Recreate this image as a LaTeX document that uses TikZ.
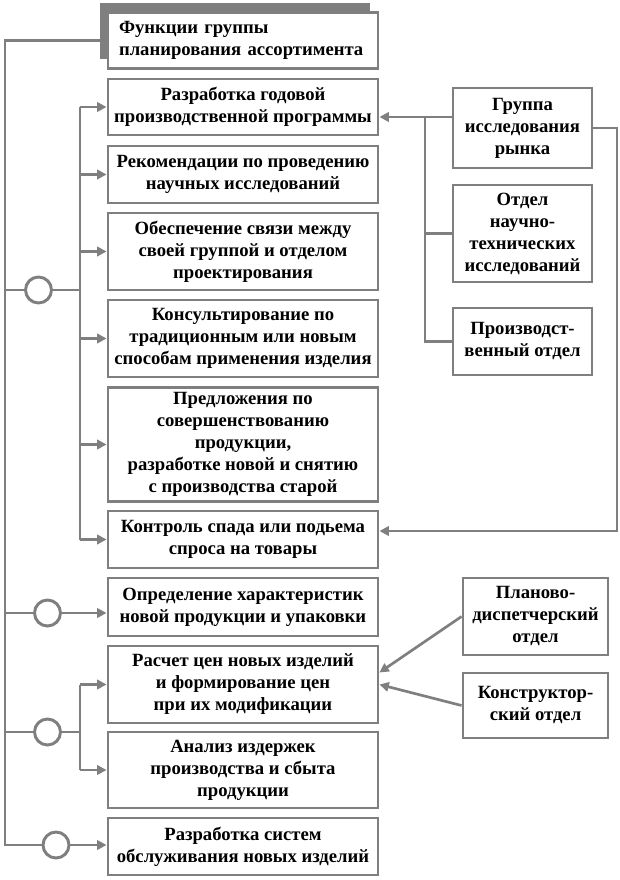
\documentclass[tikz,border=0pt]{standalone}
\usepackage{fontspec}
\setmainfont{Liberation Serif}
\usetikzlibrary{arrows.meta,shadows,calc}
\definecolor{ln}{HTML}{7F7F7F}
\tikzset{
	box/.style={draw=ln, line width=2.2pt, fill=white, align=center,
		font=\bfseries\fontsize{14}{16.5}\selectfont, minimum width=202.5pt, inner sep=2pt},
	sidebox/.style={box, minimum width=104.25pt},
	ring/.style={circle, draw=ln, line width=2.2pt, fill=white, minimum size=19.5pt, inner sep=0pt},
	line/.style={draw=ln, line width=2pt},
	arr/.style={line, -{Triangle[length=7pt,width=7pt]}},
}
\begin{document}
\begin{tikzpicture}[x=0.75pt,y=-0.75pt]
		\useasboundingbox (0,0) rectangle (619,880);
		% functions of the group
		\node[box, align=left, text width=186pt, inner xsep=8.25pt, minimum height=42pt,
			general shadow={shadow xshift=-6pt, shadow yshift=6.75pt, fill=ln}] (title) at (243,40.5)
			{Функции группы\\планирования ассортимента};
		\node[box, minimum height=42pt] (box1) at (243,107) {Разработка годовой\\производственной программы};
		\node[box, minimum height=42.75pt] (box2) at (243,174.5) {Рекомендации по проведению\\научных исследований};
		\node[box, minimum height=57.75pt] (box3) at (243,251.5) {Обеспечение связи между\\своей группой и отделом\\проектирования};
		\node[box, minimum height=57.75pt] (box4) at (243,338.5) {Консультирование по\\традиционным или новым\\способам применения изделия};
		\node[box, minimum height=86pt] (box5) at (243,444.5) {Предложения по\\совершенствованию\\продукции,\\разработке новой и снятию\\с производства старой};
		\node[box, minimum height=42.75pt] (box6) at (243,539.5) {Контроль спада или подьема\\спроса на товары};
		\node[box, minimum height=43.5pt] (box7) at (243,607) {Определение характеристик\\новой продукции и упаковки};
		\node[box, minimum height=57.75pt] (box8) at (243,684.5) {Расчет цен новых изделий\\и формирование цен\\при их модификации};
		\node[box, minimum height=57pt] (box9) at (243,770) {Анализ издержек\\производства и сбыта\\продукции};
		\node[box, minimum height=42.75pt] (box10) at (243,846.5) {Разработка систем\\обслуживания новых изделий};

		% departments
		\node[sidebox, minimum height=60pt] (grp) at (522.5,128) {Группа\\исследования\\рынка};
		\node[sidebox, minimum height=72.75pt] (nti) at (522.5,233.5) {Отдел\\научно-\\технических\\исследований};
		\node[sidebox, minimum height=50.25pt] (prod) at (522.5,341.5) {Производст-\\венный отдел};
		\node[sidebox, minimum width=108.75pt, minimum height=57.75pt] (plan) at (535.5,616.5) {Планово-\\диспетчерский\\отдел};
		\node[sidebox, minimum width=108.75pt, minimum height=48.75pt] (kon) at (535.5,705.5) {Конструктор-\\ский отдел};

		% left side
		\node[ring] (c1) at (38.5,290) {};
		\node[ring] (c2) at (47.5,613) {};
		\node[ring] (c3) at (47.5,732) {};
		\node[ring] (c4) at (56,845) {};
		\coordinate (oTop) at (5,40.5);
		\coordinate (busA) at (80,290);
		\coordinate (busB) at (80,732);
		\draw[line] (title.west) -- (oTop) -- (oTop |- c4) -- (c4);
		\draw[line] (oTop |- c1) -- (c1) -- (busA);
		\draw[line] (busA |- box1.west) -- (busA |- box6.west);
		\foreach \b in {box1,box2,box3,box4,box5,box6}
			\draw[arr] (busA |- \b.west) -- (\b.west);
		\draw[line] (oTop |- c2) -- (c2);
		\draw[arr] (c2) -- (c2 -| box7.west);
		\draw[line] (oTop |- c3) -- (c3) -- (busB);
		\draw[line] (busB |- box8.west) -- (busB |- box9.west);
		\draw[arr] (busB |- box8.west) -- (box8.west);
		\draw[arr] (busB |- box9.west) -- (box9.west);
		\draw[arr] (c4) -- (c4 -| box10.west);

		% right side
		\coordinate (jA) at (425,117);
		\coordinate (jC) at (617,531);
		\draw[arr] (jA -| grp.west) -- (jA -| box1.east);
		\draw[line] (jA) -- (jA |- prod.west) -- (prod.west);
		\draw[line] (jA |- nti.west) -- (nti.west);
		\draw[arr] (grp.east) -| (jC) -- (jC -| box6.east);
		\draw[arr] (plan.west) -- ($(box8.east)+(0,-12)$);
		\draw[arr] (kon.west) -- (box8.east);
	\end{tikzpicture}
\end{document}
